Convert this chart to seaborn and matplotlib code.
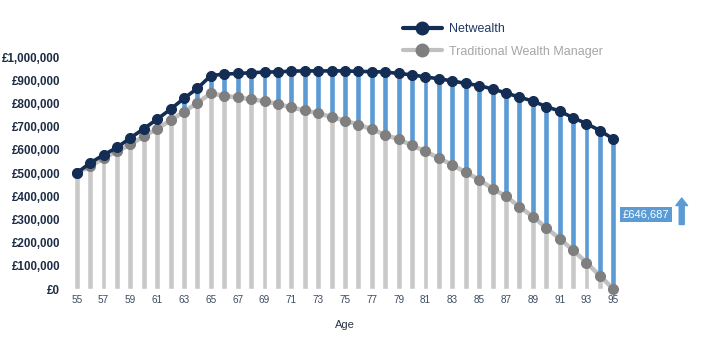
import matplotlib
matplotlib.use("Agg")
import matplotlib.pyplot as plt
from matplotlib.lines import Line2D
import seaborn as sns
import pandas as pd

# Projected portfolio value by age
ages = list(range(55, 96))
netwealth = [500000, 543000, 578000, 610000, 651000, 691000, 732000, 775000, 822000, 865000,
             920000, 926000, 929000, 932000, 935000, 936000, 939000, 940000, 940000, 940000,
             940000, 938000, 937000, 935000, 929000, 923000, 914000, 906000, 897000, 886000,
             877000, 862000, 845000, 827000, 810000, 786000, 767000, 738000, 713000, 683000,
             646687]
traditional = [500000, 529000, 564000, 593000, 623000, 658000, 691000, 727000, 764000, 803000,
               843000, 833000, 826000, 817000, 810000, 797000, 783000, 770000, 757000, 742000,
               725000, 709000, 688000, 665000, 645000, 619000, 593000, 564000, 535000, 503000,
               471000, 433000, 399000, 355000, 312000, 264000, 217000, 167000, 114000, 57000,
               0]
series_names = ["Netwealth", "Traditional Wealth Manager"]
y_ticks = [0, 100000, 200000, 300000, 400000, 500000, 600000, 700000, 800000, 900000, 1000000]
x_ticks = list(range(55, 96, 2))
final_gap = netwealth[-1]

NAVY = "#132d54"
BAR_BLUE = "#5b9bd5"
BAR_GREY = "#c9c9c9"
LINE_GREY = "#c0c0c0"
MARK_GREY = "#7f7f7f"

df = pd.DataFrame({"age": ages, "netwealth": netwealth, "traditional": traditional})

sns.set_theme(style="white")
plt.rcParams["font.family"] = ["Liberation Sans", "DejaVu Sans"]

fig = plt.figure(figsize=(7.01, 3.37), dpi=100)
ax = fig.add_axes([70 / 701, (337 - 289) / 337, 550 / 701, 232 / 337])

# Blue bars span up to the Netwealth value; grey bars painted on top cover up to the traditional value
sns.barplot(data=df, x="age", y="netwealth", native_scale=True, color=BAR_BLUE,
            saturation=1, width=0.44, ax=ax, zorder=1)
sns.barplot(data=df, x="age", y="traditional", native_scale=True, color=BAR_GREY,
            saturation=1, width=0.44, ax=ax, zorder=2)

sns.lineplot(data=df, x="age", y="traditional", color=LINE_GREY, linewidth=3.2,
             marker="o", markersize=7.2, markerfacecolor=MARK_GREY, markeredgecolor=MARK_GREY,
             ax=ax, zorder=3, clip_on=False)
sns.lineplot(data=df, x="age", y="netwealth", color=NAVY, linewidth=2.6,
             marker="o", markersize=7.2, markerfacecolor=NAVY, markeredgecolor=NAVY,
             ax=ax, zorder=4, clip_on=False)

ax.set_xlim(54.5, 95.5)
ax.set_ylim(0, 1000000)
ax.set_yticks(y_ticks)
ax.set_yticklabels([f"£{v:,.0f}" for v in y_ticks], fontsize=8.3, fontweight="bold",
                   color="#1d2c44")
ax.set_xticks(x_ticks)
ax.set_xticklabels([str(a) for a in x_ticks], fontsize=7.2, color="#3d4c60")
ax.tick_params(axis="y", length=0, pad=7)
ax.tick_params(axis="x", length=0, pad=4)
ax.set_xlabel("Age", fontsize=8, color="#2a3545", labelpad=11)
ax.set_ylabel("")
for s in ax.spines.values():
    s.set_visible(False)
ax.grid(False)

# Difference at the final age
ax.text(97.45, 322000, f"£{final_gap:,.0f}", fontsize=8, color="white",
        ha="center", va="center", clip_on=False,
        bbox=dict(boxstyle="square,pad=0.25", facecolor=BAR_BLUE, edgecolor="none"))
ax.annotate("", xy=(100.1, 392000), xytext=(100.1, 278000), annotation_clip=False,
            arrowprops=dict(arrowstyle="simple,head_length=0.45,head_width=0.7,tail_width=0.3",
                            color=BAR_BLUE, shrinkA=0, shrinkB=0))

handles = [
    Line2D([], [], color=NAVY, linewidth=3, marker="o", markersize=9,
           markerfacecolor=NAVY, markeredgecolor=NAVY),
    Line2D([], [], color=LINE_GREY, linewidth=3, marker="o", markersize=9,
           markerfacecolor=MARK_GREY, markeredgecolor=MARK_GREY),
]
leg = fig.legend(handles, series_names, loc="center left",
                 bbox_to_anchor=(403 / 701, 1 - 40.5 / 337),
                 frameon=False, fontsize=9, handlelength=3.1, handletextpad=0.6,
                 labelspacing=0.85, borderaxespad=0, borderpad=0)
leg.get_texts()[0].set_color("#1f3864")
leg.get_texts()[1].set_color("#a6a6a6")

fig.savefig("out.png", dpi=100)
